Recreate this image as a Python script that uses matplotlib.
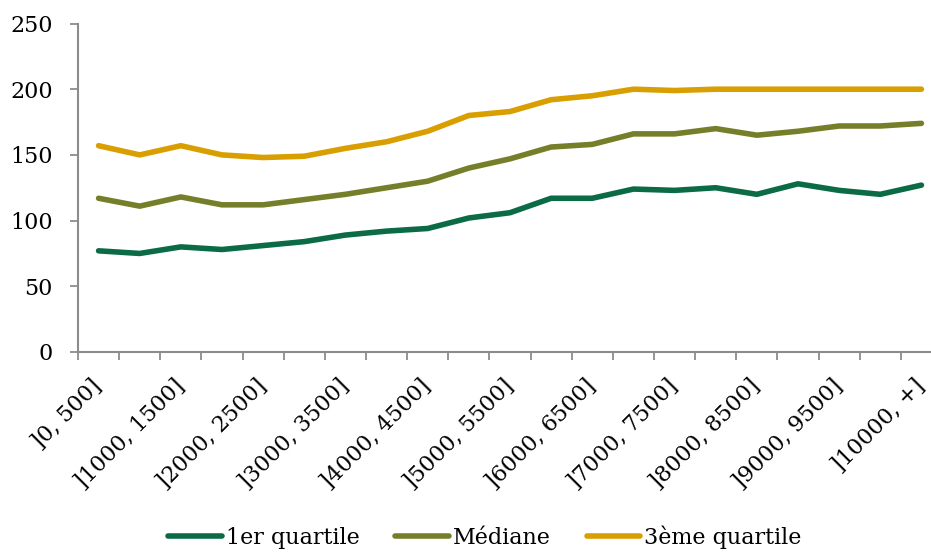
import numpy as np
import matplotlib
matplotlib.use("Agg")
import matplotlib.pyplot as plt
from matplotlib.ticker import FixedLocator

# tranches de revenu (21 classes de 500)
categories = ["]0, 500]", "]500, 1000]", "]1000, 1500]", "]1500, 2000]", "]2000, 2500]",
              "]2500, 3000]", "]3000, 3500]", "]3500, 4000]", "]4000, 4500]", "]4500, 5000]",
              "]5000, 5500]", "]5500, 6000]", "]6000, 6500]", "]6500, 7000]", "]7000, 7500]",
              "]7500, 8000]", "]8000, 8500]", "]8500, 9000]", "]9000, 9500]", "]9500, 10000]",
              "]10000, +]"]

q1 = [77, 75, 80, 78, 81, 84, 89, 92, 94, 102, 106, 117, 117, 124, 123, 125, 120, 128, 123, 120, 127]
mediane = [117, 111, 118, 112, 112, 116, 120, 125, 130, 140, 147, 156, 158, 166, 166, 170, 165, 168, 172, 172, 174]
q3 = [157, 150, 157, 150, 148, 149, 155, 160, 168, 180, 183, 192, 195, 200, 199, 200, 200, 200, 200, 200, 200]

series_names = ["1er quartile", "Médiane", "3ème quartile"]
colors = ["#0a6b45", "#777e2a", "#d99e00"]

plt.rcParams['font.family'] = ['DejaVu Serif']

fig = plt.figure(figsize=(9.31, 5.52), dpi=100)
ax = fig.add_axes([78 / 931, 1 - 352 / 552, 864 / 931, (352 - 23.5) / 552])

x = np.arange(len(categories))
for vals, name, c in zip([q1, mediane, q3], series_names, colors):
    ax.plot(x, vals, color=c, lw=4, label=name, solid_capstyle='round', solid_joinstyle='round')

ax.set_xlim(-0.5, len(categories) - 0.5)
ax.set_ylim(0, 250)
ax.set_yticks(range(0, 251, 50))

# étiquettes une sur deux, traits aux limites des classes
ax.set_xticks(x[::2])
ax.set_xticklabels(categories[::2], rotation=45, ha='right', va='center', rotation_mode='anchor')
ax.xaxis.set_minor_locator(FixedLocator(np.arange(-0.5, len(categories), 1)))
ax.tick_params(axis='x', which='major', length=0, pad=22, labelsize=16)
ax.tick_params(axis='x', which='minor', length=6, width=1.3, color='#8c8c8c')
ax.tick_params(axis='y', length=6, width=1.3, color='#8c8c8c', pad=12, labelsize=16)

for s in ['top', 'right']:
    ax.spines[s].set_visible(False)
for s in ['left', 'bottom']:
    ax.spines[s].set_color('#8c8c8c')
    ax.spines[s].set_linewidth(1.5)

fig.legend(loc='center', bbox_to_anchor=(485 / 931, 1 - 537 / 552), ncol=3, frameon=False,
           fontsize=16, handlelength=2.4, handletextpad=0.2, columnspacing=1.6)

fig.savefig("out.png", dpi=100)
